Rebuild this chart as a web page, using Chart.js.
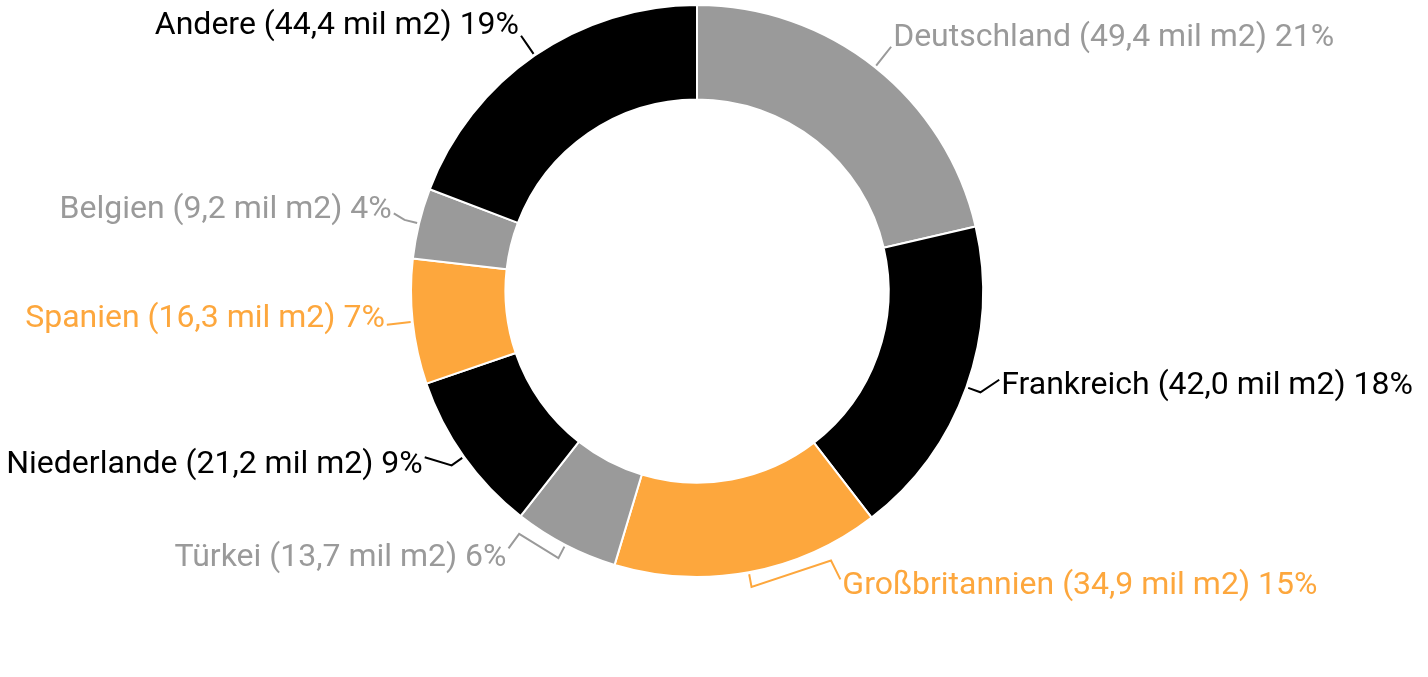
<!DOCTYPE html>
<html>
<head>
<meta charset="utf-8">
<script src="https://cdn.jsdelivr.net/npm/chart.js@4"></script>
<style>
  html, body { margin: 0; padding: 0; background: #fff; }
  #wrap { width: 1428px; height: 677px; }
</style>
</head>
<body>
<div id="wrap"><canvas id="myChart" width="1428" height="677"></canvas></div>
<script>
// area in million m2
const countries = ['Deutschland', 'Frankreich', 'Großbritannien', 'Türkei', 'Niederlande', 'Spanien', 'Belgien', 'Andere'];
const areas = [49.4, 42.0, 34.9, 13.7, 21.2, 16.3, 9.2, 44.4];

const GRAY = '#9a9a9a', BLACK = '#000000', ORANGE = '#fda73d';
const colors = [GRAY, BLACK, ORANGE, GRAY, BLACK, ORANGE, GRAY, BLACK];

// label placement tweaks (degrees along the ring, distance out, vertical nudge)
const labelShift = [0, -3.3, -16, 8.8, 4, 0, 0.7, 0];
const labelReach = [26, 29, 36, 33, 33, 26, 27, 24];
const labelDy = [-9, 6, 7, 10, 8, -6, -3, -10];

const total = areas.reduce((a, b) => a + b, 0);
const fmt = v => v.toFixed(1).replace('.', ',');

const labelPlugin = {
  id: 'outsideLabels',
  afterDraw(chart) {
    const ctx = chart.ctx;
    const arcs = chart.getDatasetMeta(0).data;
    ctx.save();
    ctx.font = '32px Roboto';
    ctx.lineWidth = 2;
    ctx.textBaseline = 'middle';
    arcs.forEach((arc, i) => {
      const p = arc.getProps(['x', 'y', 'startAngle', 'endAngle', 'outerRadius'], true);
      const mid = (p.startAngle + p.endAngle) / 2;
      const lab = mid + labelShift[i] * Math.PI / 180;
      const R = p.outerRadius;
      const pt = (a, r) => [p.x + Math.cos(a) * r, p.y + Math.sin(a) * r];
      const pts = [pt(mid, R + 2), pt(mid, R + 15)];
      // long moves get a bracket that runs along the ring first
      if (Math.abs(labelShift[i]) > 6) pts.push(pt(lab, R + 15));
      const end = pt(lab, R + labelReach[i]);
      pts.push(end);
      ctx.strokeStyle = colors[i];
      ctx.beginPath();
      ctx.moveTo(pts[0][0], pts[0][1]);
      pts.slice(1).forEach(q => ctx.lineTo(q[0], q[1]));
      ctx.stroke();
      const right = Math.cos(lab) > 0;
      ctx.textAlign = right ? 'left' : 'right';
      ctx.fillStyle = colors[i];
      const pct = Math.round(areas[i] / total * 100);
      const txt = countries[i] + ' (' + fmt(areas[i]) + ' mil m2) ' + pct + '%';
      ctx.fillText(txt, end[0] + (right ? 2 : -2), end[1] + labelDy[i]);
    });
    ctx.restore();
  }
};

const ctx = document.getElementById('myChart').getContext('2d');

const myChart = new Chart(ctx, {
  type: 'doughnut',
  data: {
    labels: countries,
    datasets: [{
      data: areas,
      backgroundColor: colors,
      borderColor: '#ffffff',
      borderWidth: 2
    }]
  },
  options: {
    responsive: false,
    animation: false,
    cutout: '67%',
    layout: { padding: { left: 410, right: 444, top: 4, bottom: 99 } },
    plugins: {
      legend: { display: false },
      tooltip: { enabled: false }
    }
  },
  plugins: [labelPlugin]
});
</script>
</body>
</html>
